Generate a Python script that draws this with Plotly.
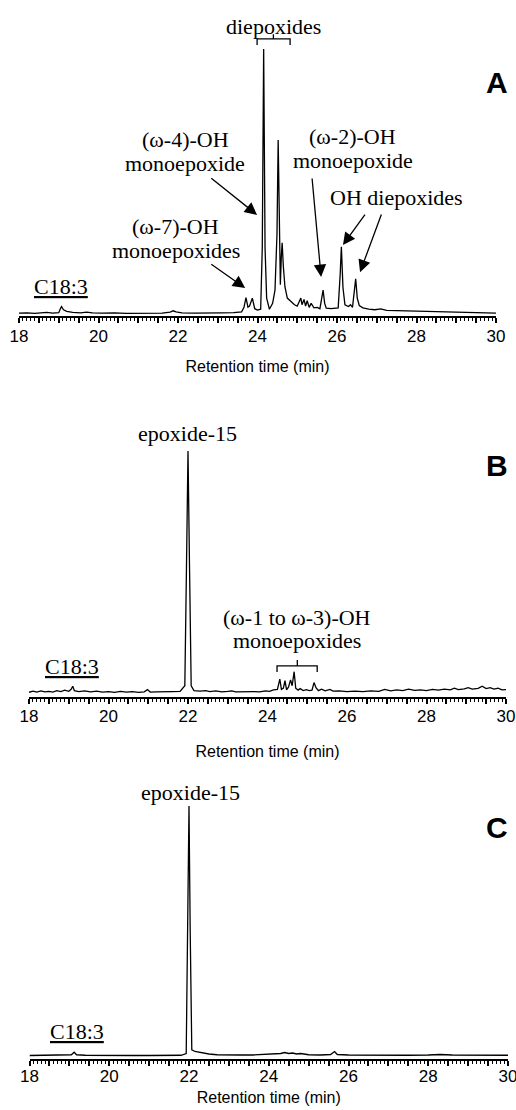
import plotly.graph_objects as go

W, H = 516, 1110

# ---------------- data (retention time in min, relative signal) ----------------
a_time = [18.00, 18.20, 18.40, 18.55, 18.70, 18.85, 19.00, 19.04, 19.07, 19.12, 19.20, 19.35,
          19.55, 19.70, 19.85, 20.10, 20.40, 20.70, 21.00, 21.30, 21.60, 21.80, 21.88, 21.95,
          22.10, 22.40, 22.80, 23.10, 23.40, 23.60, 23.66, 23.71, 23.76, 23.80, 23.87, 23.93,
          24.00, 24.08, 24.12, 24.155, 24.19, 24.23, 24.30, 24.38, 24.44, 24.49, 24.52, 24.555,
          24.575, 24.60, 24.62, 24.65, 24.69, 24.75, 24.85, 24.93, 25.00, 25.05, 25.09, 25.12,
          25.17, 25.21, 25.25, 25.30, 25.35, 25.42, 25.50, 25.57, 25.62, 25.65, 25.69, 25.73,
          25.85, 25.95, 26.03, 26.08, 26.11, 26.15, 26.20, 26.29, 26.34, 26.39, 26.43, 26.47,
          26.51, 26.56, 26.65, 26.80, 26.95, 27.10, 27.25, 27.50, 27.80, 28.10, 28.40, 28.70,
          29.00, 29.30, 29.60, 30.00]
a_signal = [0.3, 0.4, 0.2, 0.5, 0.6, 0.3, 0.5, 2.0, 2.8, 1.6, 1.0, 0.6,
            0.4, 0.7, 0.4, 0.3, 0.4, 0.2, 0.3, 0.4, 0.3, 0.7, 1.2, 0.8,
            0.4, 0.3, 0.5, 0.4, 0.5, 0.8, 2.5, 6.2, 2.6, 3.0, 6.0, 2.0,
            1.5, 1.8, 25.0, 100.0, 25.0, 6.0, 1.8, 4.0, 9.0, 30.0, 65.7, 25.0,
            11.0, 22.0, 26.9, 18.0, 10.3, 6.0, 4.6, 3.5, 3.0, 4.5, 6.0, 3.5,
            5.5, 3.0, 5.0, 2.5, 4.0, 2.3, 2.5, 2.0, 6.0, 9.0, 4.0, 2.2,
            2.0, 2.2, 2.3, 15.0, 25.4, 10.0, 3.5, 2.8, 3.5, 2.5, 8.0, 13.3,
            6.0, 3.2, 2.3, 1.8, 1.6, 1.9, 1.4, 1.3, 1.1, 0.9, 0.8, 0.7,
            0.6, 0.5, 0.4, 0.3]

b_time = [18.00, 18.10, 18.20, 18.30, 18.40, 18.50, 18.60, 18.70, 18.80, 18.90, 19.00, 19.06,
          19.10, 19.14, 19.25, 19.40, 19.55, 19.70, 19.85, 20.00, 20.15, 20.30, 20.45, 20.60,
          20.75, 20.90, 20.98, 21.05, 21.20, 21.40, 21.60, 21.80, 21.92, 21.96, 22.00, 22.04,
          22.08, 22.15, 22.30, 22.45, 22.55, 22.70, 22.85, 23.00, 23.10, 23.20, 23.35, 23.50,
          23.65, 23.80, 23.95, 24.05, 24.15, 24.25, 24.31, 24.35, 24.40, 24.44, 24.48, 24.53,
          24.58, 24.62, 24.67, 24.71, 24.77, 24.82, 24.90, 24.98, 25.05, 25.12, 25.17, 25.22,
          25.28, 25.36, 25.45, 25.57, 25.65, 25.80, 26.00, 26.20, 26.40, 26.60, 26.80, 26.95,
          27.10, 27.25, 27.40, 27.55, 27.70, 27.85, 28.00, 28.15, 28.30, 28.45, 28.60, 28.70,
          28.80, 28.95, 29.05, 29.15, 29.30, 29.40, 29.50, 29.60, 29.70, 29.80, 29.90, 30.00]
b_signal = [0.3, 0.8, 0.4, 0.9, 0.5, 0.7, 0.4, 1.0, 0.6, 1.2, 0.7, 1.5,
            2.8, 1.0, 0.6, 0.9, 0.5, 0.8, 0.4, 0.6, 0.3, 0.7, 0.4, 0.6,
            0.3, 0.5, 1.4, 0.4, 0.5, 0.4, 0.6, 0.7, 3.0, 50.0, 100.0, 50.0,
            3.0, 1.0, 0.8, 1.0, 0.6, 0.9, 0.5, 0.7, 0.9, 0.5, 0.6, 0.4,
            0.6, 0.5, 0.9, 0.7, 1.3, 1.5, 5.7, 1.5, 2.0, 5.1, 1.3, 2.5,
            5.4, 3.0, 8.8, 2.0, 1.2, 1.8, 1.0, 1.4, 1.0, 1.2, 4.3, 2.2,
            1.0, 1.6, 0.9, 1.5, 0.8, 0.9, 0.6, 0.8, 0.6, 0.9, 0.7, 1.5,
            0.9, 1.3, 1.0, 1.6, 1.1, 1.3, 1.0, 1.5, 1.2, 1.6, 1.3, 2.0,
            1.4, 1.7, 2.2, 1.6, 1.9, 2.8, 1.8, 2.2, 1.6, 2.0, 1.3, 1.4]

c_time = [18.00, 18.30, 18.60, 18.90, 19.05, 19.12, 19.18, 19.40, 19.80, 20.20, 20.60, 21.00,
          21.40, 21.80, 21.93, 21.97, 22.00, 22.03, 22.07, 22.15, 22.25, 22.35, 22.50, 22.70,
          23.00, 23.30, 23.60, 23.90, 24.10, 24.30, 24.40, 24.50, 24.60, 24.70, 24.80, 25.00,
          25.30, 25.55, 25.65, 25.72, 26.00, 26.50, 27.00, 27.50, 28.00, 28.30, 28.60, 29.00,
          29.50, 30.00]
c_signal = [0.2, 0.3, 0.2, 0.4, 0.5, 1.5, 0.5, 0.3, 0.2, 0.3, 0.2, 0.2,
            0.3, 0.3, 1.0, 50.0, 100.0, 50.0, 2.5, 1.8, 1.5, 1.2, 0.8, 0.5,
            0.6, 0.4, 0.4, 0.7, 0.7, 1.0, 1.4, 1.0, 1.2, 0.8, 1.0, 0.5,
            0.4, 0.6, 1.8, 0.6, 0.4, 0.3, 0.3, 0.3, 0.4, 0.6, 0.4, 0.3,
            0.3, 0.3]

tick_values = [18, 18.5, 19, 19.5, 20, 20.5, 21, 21.5, 22, 22.5, 23, 23.5, 24,
               24.5, 25, 25.5, 26, 26.5, 27, 27.5, 28, 28.5, 29, 29.5, 30]
tick_labels = ["18", "", "", "", "20", "", "", "", "22", "", "", "", "24",
               "", "", "", "26", "", "", "", "28", "", "", "", "30"]
axis_title = "Retention time (min)"

# annotation text lines: (text, time, signal)
a_labels = [("diepoxides", 24.39, 108.3),
            ("(\u03c9-4)-OH", 22.18, 65.8), ("monoepoxide", 22.18, 56.9),
            ("(\u03c9-7)-OH", 21.94, 32.9), ("monoepoxides", 21.94, 24.0),
            ("(\u03c9-2)-OH", 26.39, 66.9), ("monoepoxide", 26.39, 58.0),
            ("OH diepoxides", 27.50, 43.8),
            ("<u>C18:3</u>", 19.06, 10.2)]
# arrows: (tail time, tail signal, tip time, tip signal)
a_arrows = [(22.80, 51.7, 23.99, 37.4),
            (22.80, 19.2, 23.69, 9.8),
            (25.37, 51.7, 25.60, 14.0),
            (26.73, 38.1, 26.15, 26.0),
            (27.13, 38.1, 26.58, 15.8)]
# bracket: (start, end, centre, bar level, end level, centre tick level)
a_bracket = (23.99, 24.82, 24.40, 103.8, 101.5, 105.6)

b_labels = [("epoxide-15", 21.99, 107.0),
            ("(\u03c9-1 to \u03c9-3)-OH", 24.75, 31.3), ("monoepoxides", 24.75, 21.5),
            ("<u>C18:3</u>", 19.09, 10.9)]
b_bracket = (24.24, 25.25, 24.75, 11.2, 8.7, 13.6)

c_labels = [("epoxide-15", 22.04, 105.5),
            ("<u>C18:3</u>", 19.18, 9.7)]

# ---------------- layout geometry (pixels) ----------------
panels = [
    dict(x0=19, x1=496, ybot=316, ytop=5, yr=[-0.755, 116.6], letter="A", lx=497, ly=82,
         lab_off=-1, title_off=15),
    dict(x0=29, x1=506, ybot=697, ytop=395, yr=[-1.65, 123.1], letter="B", lx=497, ly=466,
         lab_off=-2, title_off=20),
    dict(x0=29.5, x1=508, ybot=1059, ytop=760, yr=[-1.2, 118.4], letter="C", lx=497, ly=827,
         lab_off=-4, title_off=6),
]

SERIF = "Liberation Serif, Times New Roman, serif"
SANS = "Liberation Sans, Arial, sans-serif"

fig = go.Figure()
series = [(a_time, a_signal), (b_time, b_signal), (c_time, c_signal)]
for i, (t, s) in enumerate(series):
    sfx = "" if i == 0 else str(i + 1)
    fig.add_trace(go.Scatter(x=t, y=s, mode="lines", line=dict(color="black", width=1.3),
                             xaxis="x" + sfx, yaxis="y" + sfx, hoverinfo="skip"))

layout = dict(width=W, height=H, autosize=False, margin=dict(l=0, r=0, t=0, b=0, pad=0),
              paper_bgcolor="white", plot_bgcolor="white", showlegend=False)
for i, p in enumerate(panels):
    sfx = "" if i == 0 else str(i + 1)
    layout["xaxis" + sfx] = dict(
        domain=[p["x0"] / W, p["x1"] / W], range=[18, 30], anchor="y" + sfx,
        automargin=False, ticklabeloverflow="allow",
        showline=True, linecolor="black", linewidth=2, showgrid=False, zeroline=False,
        ticks="outside", ticklen=5, tickwidth=1.5, tickcolor="black",
        tickmode="array", tickvals=tick_values, ticktext=tick_labels,
        ticklabelstandoff=p["lab_off"],
        tickfont=dict(family=SANS, size=17, color="black"),
        minor=dict(dtick=0.1, tick0=18, ticks="outside", ticklen=2.5, tickwidth=1, tickcolor="black",
                   showgrid=False),
        title=dict(text=axis_title, font=dict(family=SANS, size=16, color="black"),
                   standoff=p["title_off"]),
        fixedrange=True)
    layout["yaxis" + sfx] = dict(
        domain=[1 - p["ybot"] / H, 1 - p["ytop"] / H], range=p["yr"], anchor="x" + sfx,
        automargin=False,
        visible=False, showgrid=False, zeroline=False, fixedrange=True)

annotations = []
shapes = []


def add_labels(labels, sfx):
    for text, t, v in labels:
        annotations.append(dict(text=text, x=t, y=v, xref="x" + sfx, yref="y" + sfx,
                                showarrow=False, xanchor="center", yanchor="middle",
                                borderpad=0,
                                font=dict(family=SERIF, size=22, color="black")))


def add_bracket(br, sfx):
    x0, x1, xc, yb, ye, yc = br
    path = f"M {x0},{ye} L {x0},{yb} L {x1},{yb} L {x1},{ye} M {xc},{yb} L {xc},{yc}"
    shapes.append(dict(type="path", path=path, xref="x" + sfx, yref="y" + sfx,
                       line=dict(color="black", width=1.3)))


add_labels(a_labels, "")
add_labels(b_labels, "2")
add_labels(c_labels, "3")
add_bracket(a_bracket, "")
add_bracket(b_bracket, "2")
for tx, ty, hx, hy in a_arrows:
    annotations.append(dict(text="", x=hx, y=hy, ax=tx, ay=ty, xref="x", yref="y",
                            axref="x", ayref="y", showarrow=True, arrowhead=2,
                            arrowsize=1.9, arrowwidth=1.3, arrowcolor="black", standoff=0,
                            startstandoff=0))
for p in panels:
    annotations.append(dict(text="<b>" + p["letter"] + "</b>", x=p["lx"] / W, y=1 - p["ly"] / H,
                            xref="paper", yref="paper", showarrow=False,
                            xanchor="center", yanchor="middle",
                            font=dict(family=SANS, size=30, color="black")))

layout["annotations"] = annotations
layout["shapes"] = shapes
fig.update_layout(**layout)
fig.write_html("out.html", config={"displayModeBar": False, "responsive": False},
               post_script="document.body.style.margin='0px';document.body.style.padding='0px';")
